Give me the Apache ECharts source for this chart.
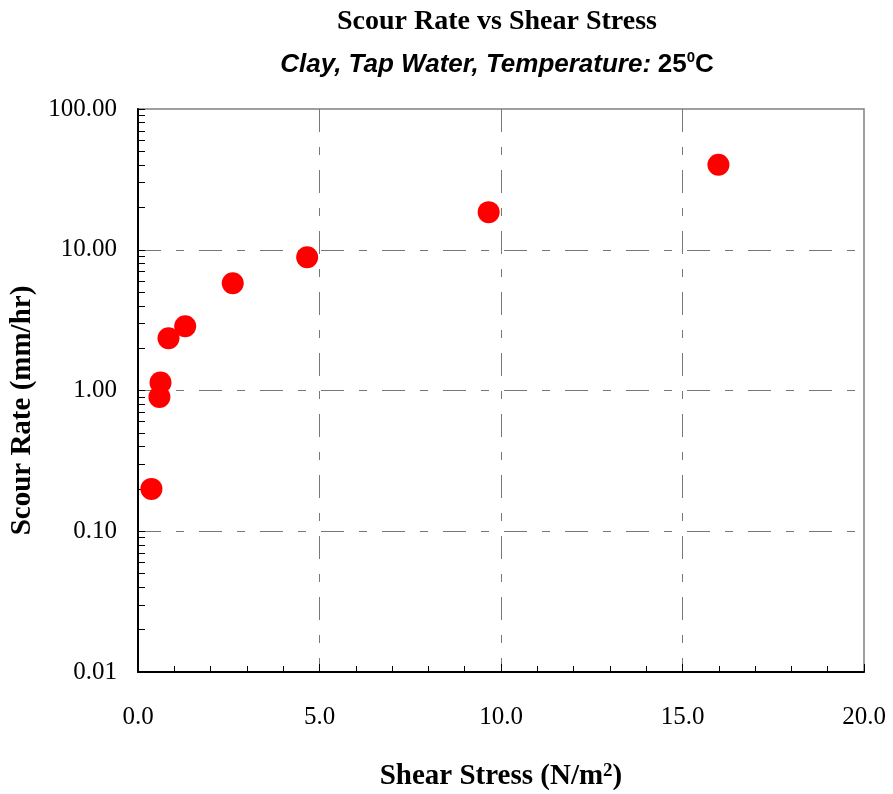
<!DOCTYPE html>
<html>
<head>
<meta charset="utf-8">
<script src="https://cdn.jsdelivr.net/npm/echarts@6/dist/echarts.min.js"></script>
<style>
  html, body { margin: 0; padding: 0; background: #fff; }
  #chart { width: 893px; height: 794px; }
</style>
</head>
<body>
<div id="chart"></div>
<script>
// data
const shearStress = [0.37, 0.59, 0.62, 0.84, 1.30, 2.61, 4.66, 9.66, 15.99];
const scourRate = [0.20, 0.90, 1.14, 2.35, 2.86, 5.78, 8.84, 18.5, 40.2];

const xTicks = [0, 5, 10, 15, 20];
const yLabels = [0.01, 0.1, 1, 10, 100];
const yTicks = [0.01, 0.02, 0.03, 0.04, 0.05, 0.06, 0.07, 0.08, 0.09,
  0.1, 0.2, 0.3, 0.4, 0.5, 0.6, 0.7, 0.8, 0.9,
  1, 2, 3, 4, 5, 6, 7, 8, 9,
  10, 20, 30, 40, 50, 60, 70, 80, 90, 100];

const serif = 'Liberation Serif';
const sans = 'Liberation Sans';
const gridDash = {color: '#777', width: 1, type: [23, 15, 8, 15]};

const chart = echarts.init(document.getElementById('chart'));
const option = {
  backgroundColor: '#fff',
  animation: false,
  title: {
    left: 492, top: 3, textAlign: 'center',
    text: 'Scour Rate vs Shear Stress',
    textStyle: {fontFamily: serif, fontWeight: 'bold', fontSize: 28, color: '#000'},
    subtext: '{i|Clay, Tap Water, Temperature:}  {n|25}{s|0}{n|C}',
    itemGap: 14,
    subtextStyle: {
      rich: {
        i: {fontFamily: sans, fontStyle: 'italic', fontWeight: 'bold', fontSize: 26, color: '#000', lineHeight: 30},
        n: {fontFamily: sans, fontWeight: 'bold', fontSize: 26, color: '#000', lineHeight: 30},
        s: {fontFamily: sans, fontWeight: 'bold', fontSize: 15, color: '#000', verticalAlign: 'top', lineHeight: 15}
      }
    }
  },
  grid: {
    left: 138, right: 29, top: 109, bottom: 122,
    outerBoundsMode: 'none',
    show: true, borderColor: '#808080', borderWidth: 1.5
  },
  xAxis: {
    type: 'value', min: 0, max: 20, interval: 5,
    name: 'Shear Stress (N/m{s|2})',
    nameLocation: 'middle', nameGap: 90,
    nameTextStyle: {
      fontFamily: serif, fontWeight: 'bold', fontSize: 29, color: '#000',
      rich: {s: {fontFamily: serif, fontWeight: 'bold', fontSize: 19, color: '#000', verticalAlign: 'top', lineHeight: 19}}
    },
    axisLine: {lineStyle: {color: '#000', width: 2}},
    axisTick: {inside: true, length: 8, lineStyle: {color: '#000'}},
    minorTick: {show: true, splitNumber: 5, length: 6, lineStyle: {color: '#000'}},
    axisLabel: {
      customValues: xTicks,
      margin: 33, fontFamily: serif, fontSize: 25, color: '#000',
      formatter: v => v.toFixed(1)
    },
    splitLine: {show: true, showMinLine: false, showMaxLine: false, lineStyle: gridDash}
  },
  yAxis: [{
    type: 'log', logBase: 10, min: 0.01, max: 100,
    name: 'Scour Rate (mm/hr)',
    nameLocation: 'middle', nameGap: 94,
    nameTextStyle: {fontFamily: serif, fontWeight: 'bold', fontSize: 29, color: '#000', padding: [0, 40, 0, 0]},
    axisLine: {lineStyle: {color: '#000', width: 2}},
    axisTick: {show: false},
    axisLabel: {
      customValues: yLabels,
      margin: 21, fontFamily: serif, fontSize: 25, color: '#000',
      formatter: v => v.toFixed(2)
    },
    splitLine: {show: true, showMinLine: false, showMaxLine: false, lineStyle: gridDash}
  }, {
    // second log axis only to carry the 2..9 ticks of each decade
    type: 'log', logBase: 10, min: 0.01, max: 100, position: 'left',
    axisLine: {show: false},
    axisTick: {show: true, customValues: yTicks, inside: true, length: 7, lineStyle: {color: '#000', width: 1}},
    axisLabel: {show: false},
    splitLine: {show: false}
  }],
  series: [{
    type: 'scatter',
    data: shearStress.map((x, i) => [x, scourRate[i]]),
    symbol: 'circle', symbolSize: 22,
    itemStyle: {color: '#ff0000', opacity: 1}
  }]
};
option && chart.setOption(option);
</script>
</body>
</html>
